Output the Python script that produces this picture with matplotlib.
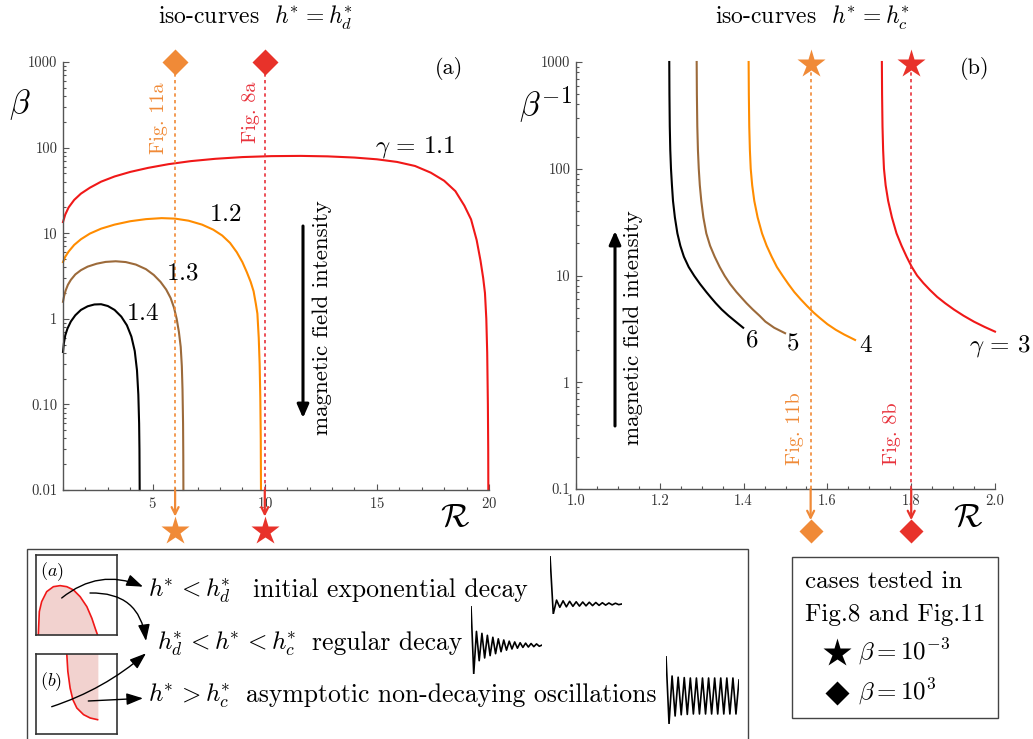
import matplotlib
matplotlib.use("Agg")
import matplotlib.pyplot as plt
import numpy as np
from matplotlib.patches import Rectangle, FancyArrowPatch, Polygon
from matplotlib.ticker import FixedLocator, LogLocator, MultipleLocator, NullFormatter, FixedFormatter

plt.rcParams['font.family'] = ['cmr10', 'DejaVu Serif']
plt.rcParams['mathtext.fontset'] = 'cm'
plt.rcParams['axes.unicode_minus'] = False
plt.rcParams['axes.formatter.use_mathtext'] = True

# ---------------- data: panel (a)  beta vs R,  iso-curves h* = h*_d ----------------
a_gamma_labels = ["$\\gamma\\,=\\,1.1$", "$1.2$", "$1.3$", "$1.4$"]
a_R_g11 = [1.0, 1.1, 1.25, 1.5, 1.8, 2.2, 2.7, 3.3, 4.0, 4.8, 5.7, 6.7, 7.8, 9.0, 10.3, 11.6,
           12.8, 14.0, 15.0, 15.9, 16.7, 17.4, 18.0, 18.5, 18.9, 19.2, 19.45, 19.62, 19.74, 19.82,
           19.88, 19.92, 19.95, 19.965, 19.97]
a_b_g11 = [13.5, 16.5, 20, 24.5, 29, 34, 40, 46, 52, 58, 64, 69.5, 74, 77.5, 79.5, 80,
           79, 76.5, 73, 68, 61, 51, 41, 31, 21, 14.5, 8.3, 4.8, 3.0, 2.0,
           1.0, 0.4, 0.1, 0.03, 0.01]
a_R_g12 = [1.0, 1.1, 1.25, 1.5, 1.8, 2.2, 2.7, 3.3, 4.0, 4.7, 5.4, 6.0, 6.6, 7.2, 7.7, 8.1, 8.45,
           8.75, 9.0, 9.2, 9.37, 9.5, 9.6, 9.67, 9.73, 9.77, 9.8, 9.82, 9.83]
a_b_g12 = [4.6, 5.3, 6.1, 7.3, 8.5, 9.9, 11.3, 12.6, 13.8, 14.6, 15.0, 14.8, 14.0, 12.6, 11.0, 9.4, 7.7,
           6.0, 4.6, 3.5, 2.7, 2.1, 1.5, 1.15, 0.6, 0.3, 0.12, 0.04, 0.01]
a_R_g13 = [1.0, 1.05, 1.12, 1.22, 1.35, 1.55, 1.8, 2.1, 2.5, 2.9, 3.35, 3.8, 4.25, 4.7, 5.05, 5.35,
           5.6, 5.8, 5.95, 6.07, 6.17, 6.25, 6.3, 6.33, 6.355, 6.365, 6.37]
a_b_g13 = [1.58, 1.85, 2.15, 2.5, 2.85, 3.3, 3.7, 4.07, 4.4, 4.62, 4.7, 4.6, 4.3, 3.8, 3.25, 2.7,
           2.2, 1.75, 1.35, 1.0, 0.7, 0.47, 0.28, 0.15, 0.06, 0.025, 0.01]
a_R_g14 = [1.0, 1.04, 1.1, 1.2, 1.35, 1.55, 1.8, 2.1, 2.4, 2.7, 3.0, 3.3, 3.6, 3.85, 4.05, 4.2,
           4.3, 4.36, 4.395, 4.41, 4.42]
a_b_g14 = [0.41, 0.52, 0.64, 0.77, 0.93, 1.1, 1.27, 1.4, 1.47, 1.48, 1.41, 1.27, 1.06, 0.84, 0.62, 0.42,
           0.25, 0.13, 0.06, 0.03, 0.01]
a_cases_R = [6.0, 10.0]          # Fig. 11a, Fig. 8a
a_cases_labels = ["Fig. 11a", "Fig. 8a"]
a_yticks = [0.01, 0.1, 1, 10, 100, 1000]
a_yticklabels = ["0.01", "0.10", "1", "10", "100", "1000"]
a_xticks = [5, 10, 15, 20]

# ---------------- data: panel (b)  1/beta vs R,  iso-curves h* = h*_c ----------------
b_gamma_labels = ["$6$", "$5$", "$4$", "$\\gamma\\,=\\,3$"]
b_R_g6 = [1.2226, 1.2230, 1.2238, 1.2250, 1.2267, 1.2290, 1.2315, 1.2360, 1.2420, 1.2490, 1.2575,
          1.2690, 1.2824, 1.2963, 1.3111, 1.3222, 1.3336, 1.3478, 1.3640, 1.3810, 1.3990]
b_v_g6 = [1000, 500, 250, 150, 100, 70, 50, 35, 24.8, 19, 15, 12, 9.9, 8.3, 7.0, 6.2, 5.5, 4.8, 4.2, 3.7, 3.24]
b_R_g5 = [1.288, 1.2885, 1.2895, 1.291, 1.293, 1.2955, 1.299, 1.304, 1.311, 1.320, 1.331, 1.343, 1.355,
          1.368, 1.383, 1.395, 1.407, 1.422, 1.438, 1.452, 1.473, 1.499]
b_v_g5 = [1000, 500, 250, 150, 100, 70, 50, 35, 24.8, 19, 15, 12, 9.9, 8.3, 7.0, 6.2, 5.5, 4.8, 4.2,
          3.7, 3.24, 2.88]
b_R_g4 = [1.412, 1.4125, 1.4135, 1.415, 1.417, 1.4205, 1.4255, 1.4335, 1.4440, 1.4550, 1.4670, 1.4795,
          1.4935, 1.507, 1.521, 1.536, 1.551, 1.567, 1.582, 1.600, 1.620, 1.640, 1.666]
b_v_g4 = [1000, 500, 250, 150, 100, 70, 50, 35, 24.8, 19, 15, 12, 9.9, 8.3, 7.0, 6.0, 5.2, 4.5, 4.0,
          3.5, 3.1, 2.8, 2.49]
b_R_g3 = [1.730, 1.7305, 1.7315, 1.733, 1.735, 1.739, 1.745, 1.754, 1.765, 1.777, 1.789, 1.801, 1.814,
          1.829, 1.845, 1.862, 1.881, 1.902, 1.925, 1.950, 1.975, 2.0]
b_v_g3 = [1000, 500, 250, 150, 100, 70, 50, 35, 24.8, 19, 15, 12.1, 10, 8.5, 7.3, 6.3, 5.5, 4.8, 4.2,
          3.69, 3.3, 2.98]
b_cases_R = [1.56, 1.80]         # Fig. 11b, Fig. 8b
b_cases_labels = ["Fig. 11b", "Fig. 8b"]
b_yticks = [0.1, 1, 10, 100, 1000]
b_yticklabels = ["0.1", "1", "10", "100", "1000"]
b_xticks = [1.0, 1.2, 1.4, 1.6, 1.8, 2.0]
b_xticklabels = ["1.0", "1.2", "1.4", "1.6", "1.8", "2.0"]

# ---------------- data: legend schematics ----------------
inset_a_x = [0.029, 0.041, 0.070, 0.132, 0.215, 0.298, 0.380, 0.463, 0.545, 0.628, 0.690, 0.731, 0.760]
inset_a_y = [0.008, 0.292, 0.417, 0.542, 0.604, 0.617, 0.604, 0.563, 0.479, 0.354, 0.208, 0.083, 0.0]
inset_b_x = [0.380, 0.393, 0.421, 0.455, 0.504, 0.587, 0.669, 0.760]
inset_b_y = [1.0, 0.783, 0.575, 0.429, 0.325, 0.242, 0.200, 0.179]
sig_exp_decay = [1.0, -0.21, 0.08, -0.07, 0.065, -0.06, 0.055, -0.05, 0.045, -0.045, 0.04, -0.04,
                 0.035, -0.035, 0.03, -0.03, 0.025, -0.025, 0.02, -0.02, 0.015, -0.015, 0.0]
sig_regular = [1.0, -0.74, 0.35, -0.40, 0.30, -0.33, 0.25, -0.27, 0.20, -0.22, 0.16, -0.17, 0.13,
               -0.13, 0.10, -0.10, 0.08, -0.08, 0.06, -0.06, 0.05, -0.05, 0.04, -0.04, 0.03, -0.03, 0.0]
sig_nondecay = [1.0, -0.70, 0.50, -0.50, 0.47, -0.47, 0.46, -0.46, 0.45, -0.45, 0.45, -0.45, 0.45,
                -0.45, 0.45, -0.45, 0.45, -0.45, 0.45, -0.45, 0.45, -0.45, 0.45, -0.45, 0.40]

# ---------------- style ----------------
C_RED = '#f01818'
C_ORANGE = '#ff8c00'
C_BROWN = '#9c6a3a'
C_BLACK = '#000000'
M_ORANGE = '#f08a37'
M_RED = '#e8322a'
D_RED = '#e8323c'
AX_GRAY = '#555555'
TXT_GRAY = '#333333'

W, H = 1033, 739
fig = plt.figure(figsize=(W / 100, H / 100), dpi=100)

HS = r'h^{\!\!*}'   # h with tight superscript star


def P(x, y):
    return (x / W, 1 - y / H)


def T(x, y, s, **kw):
    return fig.text(x / W, 1 - y / H, s, **kw)


def style_axes(ax):
    for side in ['top', 'right']:
        ax.spines[side].set_visible(False)
    for side in ['left', 'bottom']:
        ax.spines[side].set_color(AX_GRAY)
        ax.spines[side].set_linewidth(1.0)
    ax.tick_params(which='both', direction='in', color=AX_GRAY, labelcolor=TXT_GRAY,
                   labelsize=10.5, width=0.8)
    ax.tick_params(which='major', length=4.5, pad=4)
    ax.tick_params(which='minor', length=2.5)


# ---------------- panel (a) ----------------
axA = fig.add_axes([63 / W, 1 - 490 / H, (489 - 63) / W, (490 - 62) / H])
axA.set_yscale('log')
axA.set_xlim(1, 20)
axA.set_ylim(0.01, 1000)
style_axes(axA)
axA.yaxis.set_major_locator(FixedLocator(a_yticks))
axA.yaxis.set_major_formatter(FixedFormatter(a_yticklabels))
axA.yaxis.set_minor_locator(LogLocator(base=10, subs=np.arange(2, 10)))
axA.yaxis.set_minor_formatter(NullFormatter())
axA.xaxis.set_major_locator(FixedLocator(a_xticks))
axA.xaxis.set_minor_locator(MultipleLocator(1))

for R, b, c in [(a_R_g11, a_b_g11, C_RED), (a_R_g12, a_b_g12, C_ORANGE),
                (a_R_g13, a_b_g13, C_BROWN), (a_R_g14, a_b_g14, C_BLACK)]:
    axA.plot(R, b, color=c, lw=1.5, solid_joinstyle='round', clip_on=False)

for R, mc, dc, lab in zip(a_cases_R, [M_ORANGE, M_RED], [M_ORANGE, D_RED], a_cases_labels):
    axA.axvline(R, color=dc, lw=1.2, ls=(0, (2, 2)))
    axA.plot([R], [1000], marker='D', ms=13, color=mc, mec='none', clip_on=False, zorder=5)
    trA = axA.get_xaxis_transform()
    axA.annotate('', xy=(R, -0.062), xycoords=trA, xytext=(R, 0.0), textcoords=trA,
                 arrowprops=dict(arrowstyle='->,head_length=0.5,head_width=0.25', color=mc, lw=1.6,
                                 shrinkA=0, shrinkB=0), annotation_clip=False)
    axA.plot([R], [-0.096], transform=trA, marker='*', ms=21, color=mc, mec='none', clip_on=False)

T(159, 83, a_cases_labels[0], rotation=90, ha='center', va='top', fontsize=14.5, color=M_ORANGE)
T(251, 82, a_cases_labels[1], rotation=90, ha='center', va='top', fontsize=14.5, color=D_RED)

T(415, 147, a_gamma_labels[0], ha='center', va='center', fontsize=18)
T(225, 215, a_gamma_labels[1], ha='center', va='center', fontsize=18)
T(182, 273, a_gamma_labels[2], ha='center', va='center', fontsize=18)
T(143, 314, a_gamma_labels[3], ha='center', va='center', fontsize=18)

axA.annotate('', xy=P(303, 418), xycoords='figure fraction', xytext=P(303, 226),
             textcoords='figure fraction',
             arrowprops=dict(arrowstyle='-|>,head_length=0.8,head_width=0.35', color='black', lw=2.2,
                             shrinkA=0, shrinkB=0))
T(322, 318, 'magnetic field intensity', rotation=90, ha='center', va='center', fontsize=16.5)
T(449, 69, '(a)', ha='center', va='center', fontsize=16)
T(20, 105, r'$\beta$', ha='center', va='center', fontsize=24)
T(455, 517, r'$\mathcal{R}$', ha='center', va='center', fontsize=24)
T(255, 18, 'iso-curves  $' + HS + ' = ' + HS + '_d$', ha='center', va='center', fontsize=17)

# ---------------- panel (b) ----------------
axB = fig.add_axes([576 / W, 1 - 489 / H, (995 - 576) / W, (489 - 62) / H])
axB.set_yscale('log')
axB.set_xlim(1.0, 2.0)
axB.set_ylim(0.1, 1000)
style_axes(axB)
axB.yaxis.set_major_locator(FixedLocator(b_yticks))
axB.yaxis.set_major_formatter(FixedFormatter(b_yticklabels))
axB.yaxis.set_minor_locator(LogLocator(base=10, subs=np.arange(2, 10)))
axB.yaxis.set_minor_formatter(NullFormatter())
axB.xaxis.set_major_locator(FixedLocator(b_xticks))
axB.xaxis.set_major_formatter(FixedFormatter(b_xticklabels))
axB.xaxis.set_minor_locator(MultipleLocator(0.05))

for R, v, c in [(b_R_g6, b_v_g6, C_BLACK), (b_R_g5, b_v_g5, C_BROWN),
                (b_R_g4, b_v_g4, C_ORANGE), (b_R_g3, b_v_g3, C_RED)]:
    axB.plot(R, v, color=c, lw=1.5, solid_joinstyle='round', clip_on=False)

for R, mc, dc in zip(b_cases_R, [M_ORANGE, M_RED], [M_ORANGE, D_RED]):
    axB.axvline(R, color=dc, lw=1.2, ls=(0, (2, 2)))
    axB.plot([R], [0.995], transform=axB.get_xaxis_transform(), marker='*', ms=21, color=mc,
             mec='none', clip_on=False, zorder=5)
    trB = axB.get_xaxis_transform()
    axB.annotate('', xy=(R, -0.073), xycoords=trB, xytext=(R, 0.0), textcoords=trB,
                 arrowprops=dict(arrowstyle='->,head_length=0.5,head_width=0.25', color=mc, lw=1.6,
                                 shrinkA=0, shrinkB=0), annotation_clip=False)
    axB.plot([R], [-0.098], transform=trB, marker='D', ms=12, color=mc, mec='none', clip_on=False)

T(795, 465, b_cases_labels[0], rotation=90, ha='center', va='bottom', fontsize=14.5, color=M_ORANGE)
T(892, 465, b_cases_labels[1], rotation=90, ha='center', va='bottom', fontsize=14.5, color=D_RED)

T(752, 340, b_gamma_labels[0], ha='center', va='center', fontsize=18)
T(793, 343, b_gamma_labels[1], ha='center', va='center', fontsize=18)
T(866, 346, b_gamma_labels[2], ha='center', va='center', fontsize=18)
T(1000, 346, b_gamma_labels[3], ha='center', va='center', fontsize=18)

axB.annotate('', xy=P(615, 231), xycoords='figure fraction', xytext=P(615, 426),
             textcoords='figure fraction',
             arrowprops=dict(arrowstyle='-|>,head_length=0.8,head_width=0.35', color='black', lw=2.2,
                             shrinkA=0, shrinkB=0))
T(633, 328, 'magnetic field intensity', rotation=90, ha='center', va='center', fontsize=16.5)
T(975, 69, '(b)', ha='center', va='center', fontsize=16)
T(545, 105, r'$\beta^{-1}$', ha='center', va='center', fontsize=24)
T(968, 517, r'$\mathcal{R}$', ha='center', va='center', fontsize=24)
T(812, 18, 'iso-curves  $' + HS + ' = ' + HS + '_c$', ha='center', va='center', fontsize=17)

# ---------------- bottom-left legend box ----------------
fig.patches.append(Rectangle(P(27, 760), (748 - 27) / W, (760 - 549) / H, transform=fig.transFigure,
                             fill=False, ec='#444444', lw=1.0))

inA = fig.add_axes([36 / W, 1 - 635 / H, (117 - 36) / W, (635 - 555) / H])
inB = fig.add_axes([36 / W, 1 - 734 / H, (117 - 36) / W, (734 - 654) / H])
for ax in (inA, inB):
    ax.set_xlim(0, 1)
    ax.set_ylim(0, 1)
    ax.set_xticks([])
    ax.set_yticks([])
    for s in ax.spines.values():
        s.set_color('#333333')
        s.set_linewidth(1.2)
PINK = '#f2d2cf'
inA.fill_between(inset_a_x, inset_a_y, 0, color=PINK, lw=0)
inA.plot(inset_a_x, inset_a_y, color=C_RED, lw=1.2)
inA.text(0.05, 0.93, r'$(a)$', ha='left', va='top', fontsize=13)
poly_b = list(zip(inset_b_x, inset_b_y)) + [(0.77, inset_b_y[-1]), (0.77, 1.0)]
inB.add_patch(Polygon(poly_b, closed=True, color=PINK, lw=0))
inB.plot(inset_b_x, inset_b_y, color=C_RED, lw=1.2)
inB.text(0.05, 0.8, r'$(b)$', ha='left', va='top', fontsize=13)

ARW = '-|>,head_length=0.5,head_width=0.18'
for (x1, y1), (x2, y2), rad in [((61.7, 598), (143, 586.7), -0.3),
                                ((90, 593), (146, 641), -0.45),
                                ((51.7, 706.7), (146, 653.3), 0.1),
                                ((88.3, 701), (143, 698.3), 0.0)]:
    fig.patches.append(FancyArrowPatch(P(x1, y1), P(x2, y2), transform=fig.transFigure,
                                       connectionstyle=f'arc3,rad={rad}', arrowstyle=ARW,
                                       mutation_scale=20, color='black', lw=1.0,
                                       shrinkA=0, shrinkB=0, zorder=10))

LFS = 18.5
MFS = 18
T(148, 597, '$' + HS + ' < ' + HS + '_d$', ha='left', va='baseline', fontsize=MFS)
T(253, 597, 'initial exponential decay', ha='left', va='baseline', fontsize=LFS)
T(157, 650, '$' + HS + '_d < ' + HS + ' < ' + HS + '_c$', ha='left', va='baseline', fontsize=MFS)
T(312, 650, 'regular decay', ha='left', va='baseline', fontsize=LFS)
T(148, 702, '$' + HS + ' > ' + HS + '_c$', ha='left', va='baseline', fontsize=MFS)
T(246, 702, 'asymptotic non-decaying oscillations', ha='left', va='baseline', fontsize=LFS)

for sig, (x0, x1, y0, y1) in [(sig_exp_decay, (550, 622, 556, 614)),
                              (sig_regular, (471, 542, 606, 674)),
                              (sig_nondecay, (666, 739, 656, 724))]:
    g = fig.add_axes([x0 / W, 1 - y1 / H, (x1 - x0) / W, (y1 - y0) / H])
    g.plot(np.arange(len(sig)), sig, color='black', lw=1.2)
    g.set_xlim(0, len(sig) - 1)
    g.set_ylim(min(sig), max(sig))
    g.axis('off')

# ---------------- right legend box ----------------
fig.patches.append(Rectangle(P(792, 718), (998 - 792) / W, (718 - 557) / H, transform=fig.transFigure,
                             fill=False, ec='#444444', lw=1.0))
T(805, 588, 'cases tested in', ha='left', va='baseline', fontsize=18)
T(805, 621, 'Fig.8 and Fig.11', ha='left', va='baseline', fontsize=18)
fig.lines.append(plt.Line2D([836.7 / W], [1 - 653 / H], transform=fig.transFigure, marker='*',
                            ms=21, color='black', mec='none'))
fig.lines.append(plt.Line2D([836.7 / W], [1 - 693 / H], transform=fig.transFigure, marker='D',
                            ms=12, color='black', mec='none'))
T(858, 660, r'$\beta = 10^{-3}$', ha='left', va='baseline', fontsize=18)
T(858, 700, r'$\beta = 10^{3}$', ha='left', va='baseline', fontsize=18)

fig.savefig('out.png', dpi=100)
